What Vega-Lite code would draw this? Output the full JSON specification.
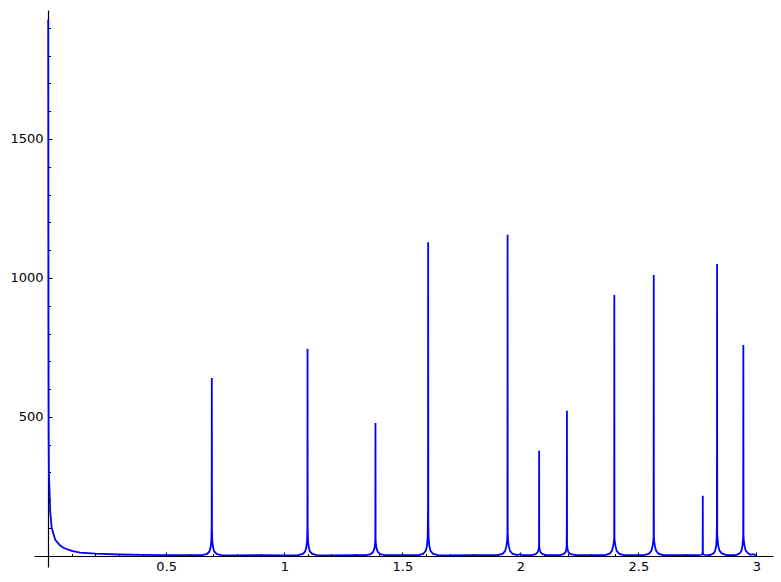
{
  "$schema": "https://vega.github.io/schema/vega-lite/v6.json",
  "width": 739,
  "height": 557,
  "autosize": "none",
  "padding": {"left": 34, "top": 10, "right": 8, "bottom": 15},
  "config": {"view": {"stroke": null}, "axis": {"grid": false, "labelFont": "DejaVu Sans", "labelFontSize": 13, "labelColor": "#000000", "domainColor": "#000000", "tickColor": "#000000", "title": null}},
  "data": {"values": [
    {"x": 0.0002, "y": 1930}, {"x": 0.001, "y": 900}, {"x": 0.002, "y": 450}, {"x": 0.003, "y": 300},
    {"x": 0.006, "y": 230}, {"x": 0.0085, "y": 160}, {"x": 0.015, "y": 100}, {"x": 0.03, "y": 58},
    {"x": 0.05, "y": 38}, {"x": 0.064, "y": 29}, {"x": 0.1, "y": 18}, {"x": 0.135, "y": 12},
    {"x": 0.2, "y": 8}, {"x": 0.3, "y": 5}, {"x": 0.4, "y": 3.5}, {"x": 0.5, "y": 3}, {"x": 0.6, "y": 2.5},
    {"x": 0.6531, "y": 3}, {"x": 0.6731, "y": 7}, {"x": 0.6831, "y": 16}, {"x": 0.6881, "y": 32}, {"x": 0.6911, "y": 55}, {"x": 0.6925, "y": 100}, {"x": 0.6931, "y": 640}, {"x": 0.6937, "y": 100}, {"x": 0.6951, "y": 55}, {"x": 0.6981, "y": 32}, {"x": 0.7031, "y": 16}, {"x": 0.7131, "y": 7}, {"x": 0.7331, "y": 3},
    {"x": 0.8, "y": 2}, {"x": 0.9, "y": 2.5}, {"x": 1.0, "y": 2},
    {"x": 1.0586, "y": 3}, {"x": 1.0786, "y": 7}, {"x": 1.0886, "y": 16}, {"x": 1.0936, "y": 32}, {"x": 1.0966, "y": 55}, {"x": 1.098, "y": 100}, {"x": 1.0986, "y": 745}, {"x": 1.0992, "y": 100}, {"x": 1.1006, "y": 55}, {"x": 1.1036, "y": 32}, {"x": 1.1086, "y": 16}, {"x": 1.1186, "y": 7}, {"x": 1.1386, "y": 3},
    {"x": 1.2, "y": 2}, {"x": 1.3, "y": 2.5},
    {"x": 1.3463, "y": 3}, {"x": 1.3663, "y": 6}, {"x": 1.3763, "y": 14}, {"x": 1.3813, "y": 26}, {"x": 1.3843, "y": 40}, {"x": 1.3857, "y": 60}, {"x": 1.3863, "y": 478}, {"x": 1.3869, "y": 60}, {"x": 1.3883, "y": 40}, {"x": 1.3913, "y": 26}, {"x": 1.3963, "y": 14}, {"x": 1.4063, "y": 6}, {"x": 1.4263, "y": 3},
    {"x": 1.5, "y": 2.5},
    {"x": 1.5694, "y": 3}, {"x": 1.5894, "y": 8}, {"x": 1.5994, "y": 18}, {"x": 1.6044, "y": 36}, {"x": 1.6074, "y": 65}, {"x": 1.6088, "y": 165}, {"x": 1.6094, "y": 1128}, {"x": 1.61, "y": 120}, {"x": 1.6114, "y": 65}, {"x": 1.6144, "y": 36}, {"x": 1.6194, "y": 18}, {"x": 1.6294, "y": 8}, {"x": 1.6494, "y": 3},
    {"x": 1.7, "y": 2}, {"x": 1.79, "y": 3}, {"x": 1.85, "y": 2.5},
    {"x": 1.9059, "y": 3}, {"x": 1.9259, "y": 8}, {"x": 1.9359, "y": 18}, {"x": 1.9409, "y": 36}, {"x": 1.9439, "y": 55}, {"x": 1.9453, "y": 85}, {"x": 1.9459, "y": 1155}, {"x": 1.9465, "y": 85}, {"x": 1.9479, "y": 55}, {"x": 1.9509, "y": 36}, {"x": 1.9559, "y": 18}, {"x": 1.9659, "y": 8}, {"x": 1.9859, "y": 3},
    {"x": 2.0, "y": 6}, {"x": 2.01, "y": 3},
    {"x": 2.0494, "y": 3}, {"x": 2.0644, "y": 6}, {"x": 2.0724, "y": 12}, {"x": 2.0764, "y": 20}, {"x": 2.0784, "y": 30}, {"x": 2.079, "y": 40}, {"x": 2.0794, "y": 378}, {"x": 2.0798, "y": 40}, {"x": 2.0804, "y": 30}, {"x": 2.0824, "y": 20}, {"x": 2.0864, "y": 12}, {"x": 2.0944, "y": 6}, {"x": 2.1094, "y": 3},
    {"x": 2.14, "y": 2.5},
    {"x": 2.1672, "y": 3}, {"x": 2.1822, "y": 6}, {"x": 2.1902, "y": 12}, {"x": 2.1942, "y": 22}, {"x": 2.1962, "y": 38}, {"x": 2.1967, "y": 90}, {"x": 2.1972, "y": 522}, {"x": 2.1977, "y": 60}, {"x": 2.1982, "y": 38}, {"x": 2.2002, "y": 22}, {"x": 2.2042, "y": 12}, {"x": 2.2122, "y": 6}, {"x": 2.2372, "y": 3},
    {"x": 2.3, "y": 3},
    {"x": 2.3579, "y": 3}, {"x": 2.3779, "y": 8}, {"x": 2.3879, "y": 18}, {"x": 2.3929, "y": 36}, {"x": 2.3959, "y": 50}, {"x": 2.3973, "y": 65}, {"x": 2.3979, "y": 939}, {"x": 2.3985, "y": 65}, {"x": 2.3999, "y": 50}, {"x": 2.4029, "y": 36}, {"x": 2.4079, "y": 18}, {"x": 2.4179, "y": 8}, {"x": 2.4379, "y": 3},
    {"x": 2.48, "y": 3},
    {"x": 2.5249, "y": 3}, {"x": 2.5449, "y": 8}, {"x": 2.5549, "y": 18}, {"x": 2.5599, "y": 36}, {"x": 2.5629, "y": 50}, {"x": 2.5643, "y": 70}, {"x": 2.5649, "y": 1011}, {"x": 2.5655, "y": 70}, {"x": 2.5669, "y": 50}, {"x": 2.5699, "y": 36}, {"x": 2.5749, "y": 18}, {"x": 2.5849, "y": 8}, {"x": 2.6049, "y": 3},
    {"x": 2.65, "y": 3}, {"x": 2.7, "y": 3},
    {"x": 2.7526, "y": 2.5}, {"x": 2.7676, "y": 4}, {"x": 2.7716, "y": 8}, {"x": 2.7722, "y": 20}, {"x": 2.7726, "y": 216}, {"x": 2.773, "y": 20}, {"x": 2.7736, "y": 8}, {"x": 2.7776, "y": 4}, {"x": 2.7926, "y": 2.5},
    {"x": 2.8032, "y": 3}, {"x": 2.8182, "y": 9}, {"x": 2.8252, "y": 19}, {"x": 2.8292, "y": 36}, {"x": 2.8312, "y": 60}, {"x": 2.8326, "y": 115}, {"x": 2.8332, "y": 1050}, {"x": 2.8338, "y": 80}, {"x": 2.8352, "y": 60}, {"x": 2.8382, "y": 36}, {"x": 2.8432, "y": 19}, {"x": 2.8532, "y": 9}, {"x": 2.8732, "y": 3},
    {"x": 2.9144, "y": 3}, {"x": 2.9294, "y": 9}, {"x": 2.9364, "y": 19}, {"x": 2.9404, "y": 36}, {"x": 2.9424, "y": 55}, {"x": 2.9438, "y": 70}, {"x": 2.9444, "y": 759}, {"x": 2.945, "y": 70}, {"x": 2.9464, "y": 55}, {"x": 2.9494, "y": 36}, {"x": 2.9544, "y": 19}, {"x": 2.9644, "y": 9}, {"x": 2.9744, "y": 4}, {"x": 2.985, "y": 6}, {"x": 3.0, "y": 2}
  ]},
  "layer": [
    {
      "mark": {"type": "line", "color": "#0000ff", "strokeWidth": 1.8, "clip": true},
      "encoding": {
        "x": {"field": "x", "type": "quantitative", "sort": null,
              "scale": {"domain": [-0.06, 3.07], "nice": false, "zero": false},
              "axis": {"orient": "bottom", "offset": -11, "values": [0.5, 1, 1.5, 2, 2.5, 3], "format": ".1~f", "tickSize": -4, "labelPadding": 8, "domainWidth": 1.2}},
        "y": {"field": "y", "type": "quantitative",
              "scale": {"domain": [-40, 1964], "nice": false, "zero": false},
              "axis": {"orient": "left", "offset": -14, "values": [500, 1000, 1500], "format": "d", "tickSize": -4, "labelPadding": 9, "domainWidth": 1.2}}
      }
    },
    {
      "mark": {"type": "line", "opacity": 0},
      "encoding": {
        "x": {"field": "x", "type": "quantitative",
              "axis": {"orient": "bottom", "offset": -11, "values": [0.1,0.2,0.3,0.4,0.6,0.7,0.8,0.9,1.1,1.2,1.3,1.4,1.6,1.7,1.8,1.9,2.1,2.2,2.3,2.4,2.6,2.7,2.8,2.9,3.0], "tickSize": -2.5, "labels": false, "domain": false}},
        "y": {"field": "y", "type": "quantitative",
              "axis": {"orient": "left", "offset": -14, "values": [100,200,300,400,600,700,800,900,1100,1200,1300,1400,1600,1700,1800,1900], "tickSize": -2.5, "labels": false, "domain": false}}
      }
    }
  ],
  "resolve": {"axis": {"x": "independent", "y": "independent"}}
}
